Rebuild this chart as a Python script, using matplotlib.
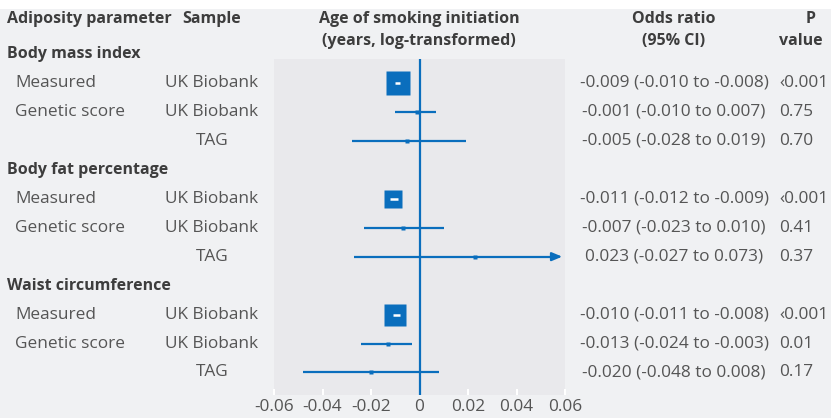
import numpy as np
import matplotlib
matplotlib.use('Agg')
import matplotlib.pyplot as plt
from matplotlib.patches import Rectangle
from matplotlib.transforms import blended_transform_factory

# data
params = ['Body mass index', 'Body fat percentage', 'Waist circumference']
groups = ['Measured', 'Genetic score', '']
samples = ['UK Biobank', 'UK Biobank', 'TAG']
est = [-0.009, -0.001, -0.005, -0.011, -0.007, 0.023, -0.010, -0.013, -0.020]
lo = [-0.010, -0.010, -0.028, -0.012, -0.023, -0.027, -0.011, -0.024, -0.048]
hi = [-0.008, 0.007, 0.019, -0.009, 0.010, 0.073, -0.008, -0.003, 0.008]
pvals = ['‹0.001', '0.75', '0.70', '‹0.001', '0.41', '0.37', '‹0.001', '0.01', '0.17']
box_px = [24, 4, 4, 18, 4, 4, 23, 4, 4]   # weight boxes, pixels wide
xticks = [-0.06, -0.04, -0.02, 0, 0.02, 0.04, 0.06]
xticklabels = ['-0.06', '-0.04', '-0.02', '0', '0.02', '0.04', '0.06']

W, H = 831, 418
BLUE = '#0a6ebd'
BG = '#f0f1f3'
PANEL = '#e9e9ec'
DARK = '#3d3d3d'
GREY = '#555555'
FONT = 'Open Sans'
FS = 12.4    # regular text
FSB = 11.5   # bold headers

plt.rcParams['font.family'] = [FONT, 'DejaVu Sans']

fig = plt.figure(figsize=(W / 100, H / 100), dpi=100, facecolor=BG)
fig.patches.append(Rectangle((0, 1 - 9 / H), 1, 9 / H, transform=fig.transFigure,
                             facecolor='white', edgecolor='none', zorder=0))

# row k sits at pixel 54 + 28.95 * k
row0, step = 54, 28.95
top_px, bot_px = 59, 395
ax = fig.add_axes([274 / W, 1 - bot_px / H, (565 - 274) / W, (bot_px - top_px) / H])
ax.set_facecolor(PANEL)
for s in ax.spines.values():
    s.set_visible(False)
ax.set_xlim(-0.06, 0.06)
ax.set_ylim((bot_px - row0) / step, (top_px - row0) / step)
ax.set_yticks([])
ax.set_xticks(xticks)
ax.set_xticklabels(xticklabels)
ax.tick_params(axis='x', direction='in', color='white', length=4, width=1.5,
               labelsize=FS, labelcolor=GREY, pad=3)

ax.axvline(0, color=BLUE, lw=1.6, zorder=2)

px_per_unit = (565 - 274) / 0.12
trans = blended_transform_factory(fig.transFigure, ax.transData)

rows = []
k = 0
for p in params:
    ax.text(7 / W, k, p, transform=trans, ha='left', va='center', fontsize=FSB,
            fontweight='bold', color=DARK, clip_on=False)
    k += 1
    for j in range(3):
        rows.append(k)
        k += 1

for i, y in enumerate(rows):
    g = groups[i % 3]
    if g:
        ax.text(15 / W, y, g, transform=trans, ha='left', va='center', fontsize=FS,
                color=GREY, clip_on=False)
    ax.text(212 / W, y, samples[i % 3], transform=trans, ha='center', va='center',
            fontsize=FS, color=GREY, clip_on=False)
    ax.text(674 / W, y, f'{est[i]:.3f} ({lo[i]:.3f} to {hi[i]:.3f})', transform=trans,
            ha='center', va='center', fontsize=FS, color=GREY, clip_on=False)
    ax.text(779 / W, y, pvals[i], transform=trans, ha='left', va='center',
            fontsize=FS, color=GREY, clip_on=False)

    x0, x1 = ax.get_xlim()
    right = min(hi[i], x1)
    if hi[i] > x1:
        ax.plot([lo[i], right - 0.004], [y, y], color=BLUE, lw=1.6, zorder=3,
                solid_capstyle='butt')
        ax.annotate('', xy=(x1, y), xytext=(right - 0.005, y),
                    arrowprops=dict(arrowstyle='-|>,head_length=0.6,head_width=0.25',
                                    color=BLUE, lw=1.6), zorder=3,
                    annotation_clip=False)
    else:
        ax.plot([lo[i], right], [y, y], color=BLUE, lw=1.6, zorder=3,
                solid_capstyle='butt')
    ax.plot(est[i], y, marker='s', ms=box_px[i] * 0.72, color=BLUE, mec='none',
            zorder=4)
    half = box_px[i] / 2 / px_per_unit
    if lo[i] > est[i] - half and hi[i] < est[i] + half:
        ax.plot([lo[i], hi[i]], [y, y], color='white', lw=1.8, zorder=5,
                solid_capstyle='butt')

# column headers
hy1, hy2 = 1 - 19 / H, 1 - 41 / H
fig.text(7 / W, hy1, 'Adiposity parameter', ha='left', va='center', fontsize=FSB,
         fontweight='bold', color=DARK)
fig.text(212 / W, hy1, 'Sample', ha='center', va='center', fontsize=FSB,
         fontweight='bold', color=DARK)
fig.text(419 / W, hy1, 'Age of smoking initiation', ha='center', va='center',
         fontsize=FSB, fontweight='bold', color=DARK)
fig.text(419 / W, hy2, '(years, log-transformed)', ha='center', va='center',
         fontsize=FSB, fontweight='bold', color=DARK)
fig.text(674 / W, hy1, 'Odds ratio', ha='center', va='center', fontsize=FSB,
         fontweight='bold', color=DARK)
fig.text(674 / W, hy2, '(95% CI)', ha='center', va='center', fontsize=FSB,
         fontweight='bold', color=DARK)
fig.text(811 / W, hy1, 'P', ha='center', va='center', fontsize=FSB,
         fontweight='bold', color=DARK)
fig.text(779 / W, hy2, 'value', ha='left', va='center', fontsize=FSB,
         fontweight='bold', color=DARK)

fig.savefig('out.png', dpi=100, facecolor=BG)
